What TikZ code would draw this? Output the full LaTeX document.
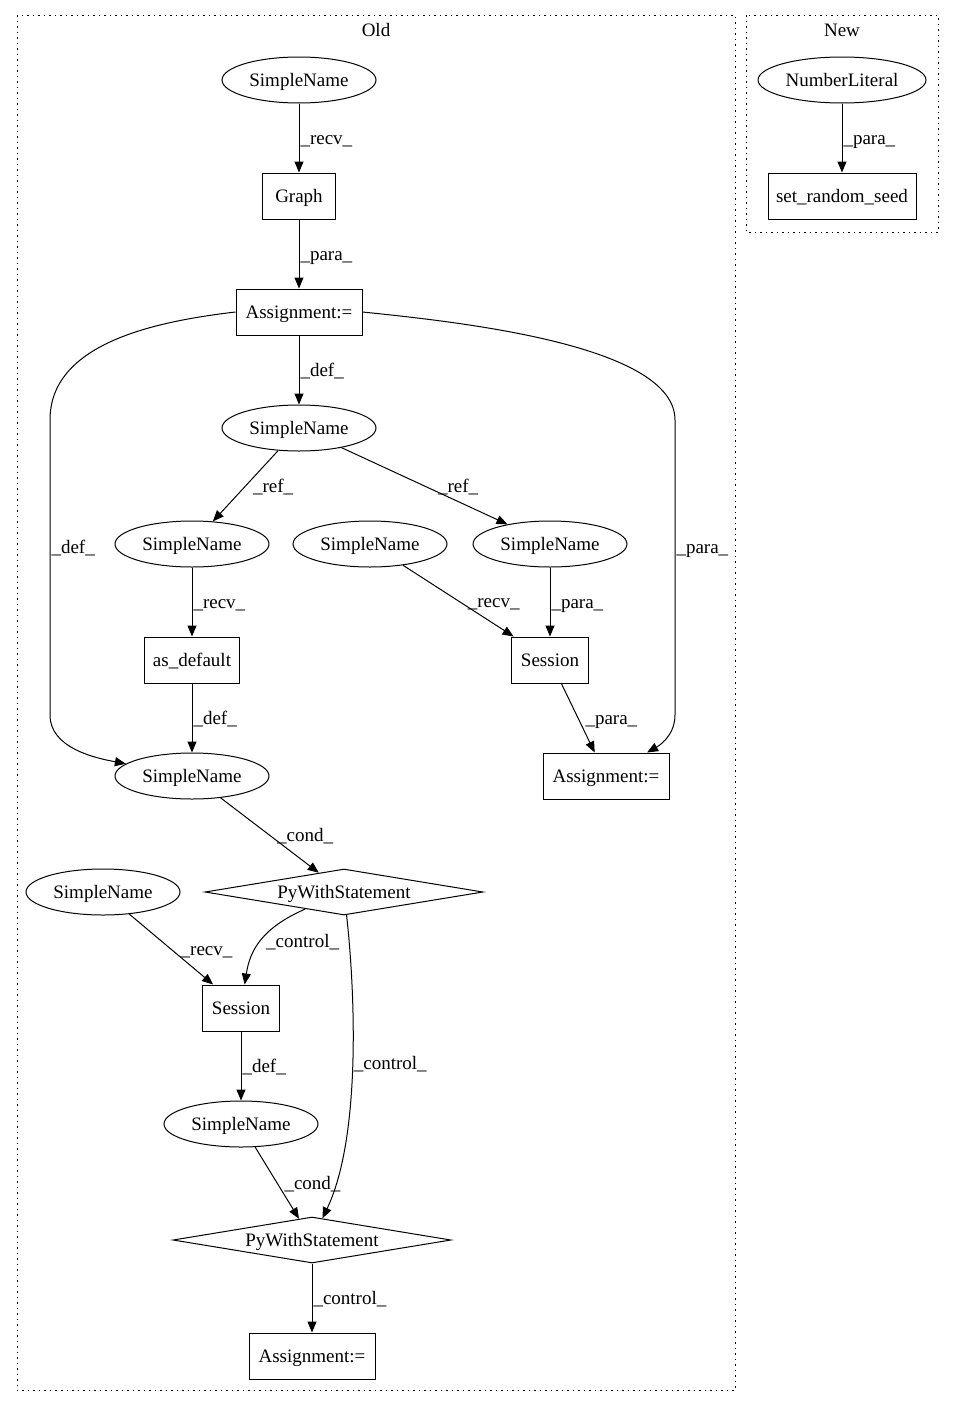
\documentclass[tikz,border=0pt]{standalone}
\usepackage{fontspec}
\setmainfont{Liberation Serif}
\usetikzlibrary{shapes.geometric,arrows.meta}

\begin{document}
\begin{tikzpicture}[x=1pt,y=-1pt,
  font=\fontsize{19}{23}\selectfont,
  every node/.style={inner sep=0pt,text height=16pt,text depth=3pt},
  namenode/.style={draw,ellipse,minimum width=154pt,minimum height=46pt,line width=1pt},
  opbox/.style={draw,rectangle,minimum height=46pt,line width=1pt},
  stmtnode/.style={draw,diamond,aspect=6,minimum width=278pt,minimum height=46pt,line width=1pt},
  edge/.style={-{Triangle[length=11pt,width=9pt]},line width=1pt},
  lbl/.style={right,inner sep=1pt},
  cluster/.style={line width=1pt,dash pattern=on 1.5pt off 4pt}]
  \useasboundingbox (0,0) rectangle (955,1408);
  % Clusters
  \draw[cluster] (17,15) rectangle (735,1390);
  \node (oldlabel) at (376,30) {Old};
  \draw[cluster] (746,15) rectangle (938,232);
  \node (newlabel) at (842,30) {New};
  % Old: graph construction
  \node[namenode] (sn1) at (299,80) {SimpleName};
  \node[opbox, minimum width=73pt] (graph) at (299,196) {Graph};
  \node[opbox, minimum width=126pt] (assign1) at (299,312) {Assignment:=};
  \node[namenode] (sn2) at (299,428) {SimpleName};
  \node[namenode] (sn3) at (192,544) {SimpleName};
  \node[namenode] (sn4) at (370,544) {SimpleName};
  \node[namenode] (sn5) at (550,544) {SimpleName};
  \node[opbox, minimum width=95pt] (asdefault) at (192,660) {as\_default};
  \node[opbox, minimum width=77pt] (session1) at (550,660) {Session};
  \node[namenode] (sn6) at (192,776) {SimpleName};
  \node[opbox, minimum width=126pt] (assign2) at (606,776) {Assignment:=};
  % Old: with blocks
  \node[stmtnode] (with1) at (344,892) {PyWithStatement};
  \node[namenode] (sn7) at (103,892) {SimpleName};
  \node[opbox, minimum width=77pt] (session2) at (241,1008) {Session};
  \node[namenode] (sn8) at (241,1124) {SimpleName};
  \node[stmtnode] (with2) at (312,1240) {PyWithStatement};
  \node[opbox, minimum width=126pt] (assign3) at (312,1356) {Assignment:=};
  % New
  \node[namenode, minimum width=168pt] (numlit) at (842,80) {NumberLiteral};
  \node[opbox, minimum width=148pt] (seed) at (842,196) {set\_random\_seed};

  % Edges
  \draw[edge] (sn1) -- node[lbl] {\_recv\_} (graph);
  \draw[edge] (graph) -- node[lbl] {\_para\_} (assign1);
  \draw[edge] (assign1) -- node[lbl] {\_def\_} (sn2);
  \draw[edge] (assign1.west) .. controls (150,322) and (50,345) .. (50,420)
    -- node[lbl, pos=0.43] {\_def\_} (50,715)
    .. controls (50,748) and (95,758) .. (sn6);
  \draw[edge] (assign1.east) .. controls (460,322) and (675,345) .. (675,420)
    -- node[lbl, pos=0.43] {\_para\_} (675,715)
    .. controls (675,738) and (655,748) .. (assign2);
  \draw[edge] (sn2) -- node[lbl, xshift=6pt] {\_ref\_} (sn3);
  \draw[edge] (sn2) -- node[lbl, xshift=12pt] {\_ref\_} (sn5);
  \draw[edge] (sn3) -- node[lbl] {\_recv\_} (asdefault);
  \draw[edge] (sn4) -- node[lbl, xshift=8pt] {\_recv\_} (session1);
  \draw[edge] (sn5) -- node[lbl] {\_para\_} (session1);
  \draw[edge] (session1) -- node[lbl, xshift=6pt] {\_para\_} (assign2);
  \draw[edge] (asdefault) -- node[lbl] {\_def\_} (sn6);
  \draw[edge] (sn6) -- node[lbl, xshift=6pt] {\_cond\_} (with1);
  \draw[edge] (sn7) -- node[lbl, xshift=8pt] {\_recv\_} (session2);
  \draw[edge] (with1) .. controls (262,928) and (250,950) .. node[lbl, pos=0.5, xshift=4pt] {\_control\_} (session2);
  \draw[edge] (with1) .. controls (356,1000) and (360,1140) .. node[lbl, pos=0.48] {\_control\_} (with2);
  \draw[edge] (session2) -- node[lbl] {\_def\_} (sn8);
  \draw[edge] (sn8) -- node[lbl, xshift=6pt] {\_cond\_} (with2);
  \draw[edge] (with2) -- node[lbl] {\_control\_} (assign3);
  \draw[edge] (numlit) -- node[lbl] {\_para\_} (seed);
\end{tikzpicture}
\end{document}
